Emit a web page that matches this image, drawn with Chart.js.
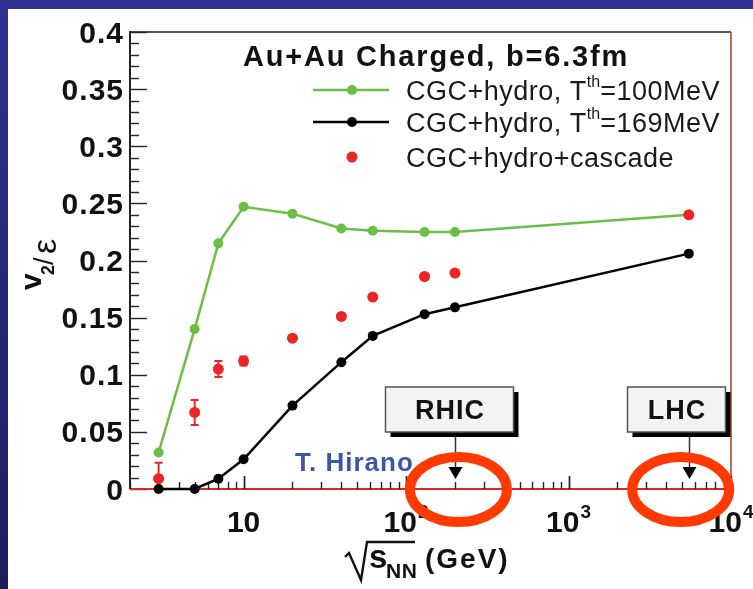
<!DOCTYPE html>
<html><head><meta charset="utf-8">
<script src="https://cdn.jsdelivr.net/npm/chart.js@4.4.0/dist/chart.umd.min.js"></script>
<style>html,body{margin:0;padding:0;background:#fff;overflow:hidden}#wrap{width:753px;height:589px;position:relative}</style>
</head><body><div id="wrap"><canvas id="c" width="753" height="589"></canvas></div>
<script>
// ---- data ----
const energies   = [3, 5, 7, 10, 20, 40, 62.4, 130, 200, 5500];
const hydro100   = [0.032, 0.140, 0.215, 0.247, 0.241, 0.228, 0.226, 0.225, 0.225, 0.240];
const hydro169   = [0.000, 0.000, 0.009, 0.026, 0.073, 0.111, 0.134, 0.153, 0.159, 0.206];
const cascade    = [0.009, 0.067, 0.105, 0.112, 0.132, 0.151, 0.168, 0.186, 0.189, 0.240];
const cascadeErr = [0.014, 0.011, 0.007, 0.004, 0.002, 0.002, 0.002, 0.002, 0.002, 0.002];
const yTickValues = [0, 0.05, 0.1, 0.15, 0.2, 0.25, 0.3, 0.35, 0.4];
const yTickLabels = ['0', '0.05', '0.1', '0.15', '0.2', '0.25', '0.3', '0.35', '0.4'];
const xDecades    = [10, 100, 1000, 10000];
const xTickBase   = ['10', '10', '10', '10'];
const xTickExp    = ['', '2', '3', '4'];
const plotTitle   = 'Au+Au Charged, b=6.3fm';
const legendLabels = [
  ['CGC+hydro, T', 'th', '=100MeV'],
  ['CGC+hydro, T', 'th', '=169MeV'],
  ['CGC+hydro+cascade', '', '']
];
const colliders   = [{label: 'RHIC', energy: 200}, {label: 'LHC', energy: 5500}];
const circled     = [210, 4900];
const credit      = 'T. Hirano';

const GREEN = '#6cbf45', RED = '#ec2424', BLACK = '#000000';

function txt(ctx, s, x, y, font, opt) {
  opt = opt || {};
  ctx.save();
  ctx.font = font;
  const ls = opt.ls || 0;
  const hasLS = ('letterSpacing' in ctx);
  if (hasLS) ctx.letterSpacing = ls + 'px';
  ctx.fillStyle = opt.color || '#111';
  ctx.textBaseline = 'alphabetic';
  ctx.textAlign = 'left';
  let w = ctx.measureText(s).width;
  if (hasLS && s.length) w -= ls;
  let x0 = x;
  if (opt.align === 'right') x0 = x - w; else if (opt.align === 'center') x0 = x - w / 2;
  ctx.fillText(s, x0, y);
  ctx.restore();
  return w + (hasLS ? ls : 0);
}

const deco = {
  id: 'deco',
  beforeDraw(chart) {
    const ctx = chart.ctx, W = chart.width, H = chart.height;
    ctx.save();
    const g = ctx.createLinearGradient(0, 0, 0, H);
    g.addColorStop(0, '#2f3294');
    g.addColorStop(1, '#1e1e5c');
    ctx.fillStyle = g;
    ctx.fillRect(0, 0, W, H);
    ctx.fillStyle = '#ffffff';
    ctx.fillRect(8, 9, W - 8, H - 9);
    ctx.restore();
  },
  beforeDatasetsDraw(chart) {
    const {ctx, chartArea: a, scales: {x, y}} = chart;
    ctx.save();
    // frame
    ctx.lineWidth = 2;
    ctx.strokeStyle = '#555';
    ctx.beginPath(); ctx.moveTo(a.left, a.top); ctx.lineTo(a.right, a.top); ctx.stroke();
    ctx.strokeStyle = '#b0442c'; ctx.lineWidth = 1.6;
    ctx.beginPath(); ctx.moveTo(a.right, a.top); ctx.lineTo(a.right, a.bottom); ctx.stroke();
    ctx.strokeStyle = '#222'; ctx.lineWidth = 2;
    ctx.beginPath(); ctx.moveTo(a.left, a.top - 1); ctx.lineTo(a.left, a.bottom); ctx.stroke();
    // y ticks
    ctx.lineWidth = 1.4; ctx.strokeStyle = '#222';
    for (let k = 0; k <= 40; k++) {
      const py = Math.round(y.getPixelForValue(k / 100)) + 0.5;
      const len = (k % 5 === 0) ? 17 : 9;
      ctx.beginPath(); ctx.moveTo(a.left, py); ctx.lineTo(a.left + len, py); ctx.stroke();
    }
    // x axis line (red)
    ctx.strokeStyle = '#e02525'; ctx.lineWidth = 2;
    ctx.beginPath(); ctx.moveTo(a.left, a.bottom); ctx.lineTo(a.right, a.bottom); ctx.stroke();
    // x ticks
    ctx.strokeStyle = '#222'; ctx.lineWidth = 1.4;
    [1, 10, 100, 1000].forEach(d => {
      for (let m = 1; m <= 10; m++) {
        const v = m * d;
        if (v < 2 || v > 10000) continue;
        const px = Math.round(x.getPixelForValue(v)) + 0.5;
        const len = (m === 1 || m === 10) ? 13 : 7;
        ctx.beginPath(); ctx.moveTo(px, a.bottom); ctx.lineTo(px, a.bottom - len); ctx.stroke();
      }
    });
    // error bars for cascade
    ctx.strokeStyle = RED; ctx.lineWidth = 2;
    ctx.beginPath(); ctx.rect(a.left, a.top, a.right - a.left, a.bottom - a.top); ctx.clip();
    energies.forEach((e, i) => {
      const px = x.getPixelForValue(e);
      const y1 = y.getPixelForValue(cascade[i] + cascadeErr[i]);
      const y2 = y.getPixelForValue(cascade[i] - cascadeErr[i]);
      ctx.beginPath();
      ctx.moveTo(px, y1); ctx.lineTo(px, y2);
      ctx.moveTo(px - 4, y1); ctx.lineTo(px + 4, y1);
      ctx.moveTo(px - 4, y2); ctx.lineTo(px + 4, y2);
      ctx.stroke();
    });
    ctx.restore();
  },
  afterDraw(chart) {
    const {ctx, chartArea: a, scales: {x, y}} = chart;
    ctx.save();
    const BOLD = (s) => 'bold ' + s + 'px "Liberation Sans", Arial, sans-serif';
    const REG = (s) => s + 'px "Liberation Sans", Arial, sans-serif';
    // y tick labels
    yTickValues.forEach((v, i) => {
      const py = y.getPixelForValue(v);
      txt(ctx, yTickLabels[i], a.left - 7, py + 10.5, BOLD(30), {align: 'right', ls: 1});
    });
    // x tick labels
    xDecades.forEach((v, i) => {
      const px = x.getPixelForValue(v);
      ctx.save(); ctx.font = BOLD(30);
      const wb = ctx.measureText(xTickBase[i]).width; ctx.restore();
      ctx.save(); ctx.font = BOLD(19);
      const we = xTickExp[i] ? ctx.measureText(xTickExp[i]).width + 1 : 0; ctx.restore();
      const x0 = px - (wb + we) / 2;
      txt(ctx, xTickBase[i], x0, a.bottom + 43, BOLD(30));
      if (xTickExp[i]) txt(ctx, xTickExp[i], x0 + wb + 1, a.bottom + 29, BOLD(19));
    });
    // x axis title: sqrt(s_NN) (GeV)
    ctx.strokeStyle = '#111'; ctx.lineWidth = 2.4; ctx.lineJoin = 'miter';
    ctx.beginPath();
    ctx.moveTo(345, 557); ctx.lineTo(349, 553); ctx.lineTo(361, 580); ctx.lineTo(367, 542); ctx.lineTo(415, 542);
    ctx.stroke();
    txt(ctx, 's', 369, 568, BOLD(33), {ls: 1});
    txt(ctx, 'NN', 386, 578, BOLD(21), {ls: 0.5});
    txt(ctx, '(GeV)', 425, 568, BOLD(28), {ls: 2});
    // y axis title v2/eps (rotated)
    ctx.save();
    ctx.translate(41, 259); ctx.rotate(-Math.PI / 2);
    txt(ctx, 'v', -31, 0, BOLD(30));
    txt(ctx, '2', -16, 13, BOLD(18));
    txt(ctx, '/', -6, 12, REG(27));
    txt(ctx, '\u03B5', 5, 15, REG(34));
    ctx.restore();
    // title
    txt(ctx, plotTitle, 243, 66, BOLD(29), {ls: 1.8});
    // legend
    const rows = [90, 122, 157];
    const styles = [{c: GREEN, line: true}, {c: BLACK, line: true}, {c: RED, line: false}];
    rows.forEach((ry, i) => {
      const st = styles[i];
      if (st.line) {
        ctx.strokeStyle = st.c; ctx.lineWidth = 2.5;
        ctx.beginPath(); ctx.moveTo(313, ry); ctx.lineTo(389, ry); ctx.stroke();
      }
      ctx.fillStyle = st.c;
      ctx.beginPath(); ctx.arc(352, ry, st.line ? 5 : 5.5, 0, Math.PI * 2); ctx.fill();
      const parts = legendLabels[i];
      let cx = 406;
      cx += txt(ctx, parts[0], cx, ry + 10, REG(27), {ls: 0.5, color: '#1a1a1a'});
      if (parts[1]) cx += txt(ctx, parts[1], cx, ry - 3, REG(16), {color: '#1a1a1a'});
      if (parts[2]) txt(ctx, parts[2], cx, ry + 10, REG(27), {ls: 0.5, color: '#1a1a1a'});
    });
    // credit
    txt(ctx, credit, 295, 471, BOLD(26), {ls: 1, color: '#3b57a9'});
    // collider annotations
    const boxes = [{dx: -70, w: 128}, {dx: -62, w: 98}];
    colliders.forEach((c, i) => {
      const sx = Math.round(x.getPixelForValue(c.energy)) + 0.5;
      const bx = sx + boxes[i].dx, bw = boxes[i].w, by = 387, bh = 45;
      ctx.fillStyle = '#000';
      ctx.fillRect(bx + 5, by + 5, bw, bh);
      ctx.fillStyle = '#f3f3f3';
      ctx.fillRect(bx, by, bw, bh);
      ctx.strokeStyle = '#555'; ctx.lineWidth = 1.5;
      ctx.strokeRect(bx, by, bw, bh);
      txt(ctx, c.label, bx + bw / 2, 419, BOLD(27), {align: 'center', ls: 1, color: '#111'});
      ctx.strokeStyle = '#333'; ctx.lineWidth = 1.5;
      ctx.beginPath(); ctx.moveTo(sx, by + bh + 5); ctx.lineTo(sx, 468); ctx.stroke();
      ctx.fillStyle = '#000';
      ctx.beginPath(); ctx.moveTo(sx - 7, 467); ctx.lineTo(sx + 7, 467); ctx.lineTo(sx, 479); ctx.closePath(); ctx.fill();
    });
    // red ellipses
    ctx.strokeStyle = '#ff3a00'; ctx.lineWidth = 10;
    circled.forEach(v => {
      const cx = x.getPixelForValue(v);
      ctx.beginPath(); ctx.ellipse(cx, a.bottom + 0.5, 48.5, 32.5, 0, 0, Math.PI * 2); ctx.stroke();
    });
    ctx.restore();
  }
};

const pts = (vals) => energies.map((e, i) => ({x: e, y: vals[i]}));

new Chart(document.getElementById('c').getContext('2d'), {
  type: 'line',
  data: {
    datasets: [
      {label: legendLabels[2].join(''), data: pts(cascade), showLine: false, pointRadius: 5.5,
       pointBackgroundColor: RED, pointBorderColor: RED, borderColor: RED, pointBorderWidth: 0, clip: false},
      {label: legendLabels[0].join(''), data: pts(hydro100), borderColor: GREEN, borderWidth: 2.5, pointRadius: 5,
       pointBackgroundColor: GREEN, pointBorderColor: GREEN, pointBorderWidth: 0, tension: 0, clip: false},
      {label: legendLabels[1].join(''), data: pts(hydro169), borderColor: BLACK, borderWidth: 2.5, pointRadius: 5,
       pointBackgroundColor: BLACK, pointBorderColor: BLACK, pointBorderWidth: 0, tension: 0, clip: false}
    ]
  },
  options: {
    responsive: false, animation: false, events: [],
    layout: {padding: {left: 0, right: 22, top: 32, bottom: 0}},
    plugins: {legend: {display: false}, tooltip: {enabled: false}, title: {display: false}},
    scales: {
      x: {type: 'logarithmic', min: 2, max: 10000, grid: {display: false}, border: {display: false},
          ticks: {display: false}, afterFit(s) { s.height = 100; }},
      y: {type: 'linear', min: 0, max: 0.4, grid: {display: false}, border: {display: false},
          ticks: {display: false}, afterFit(s) { s.width = 130; }}
    }
  },
  plugins: [deco]
});
</script></body></html>
